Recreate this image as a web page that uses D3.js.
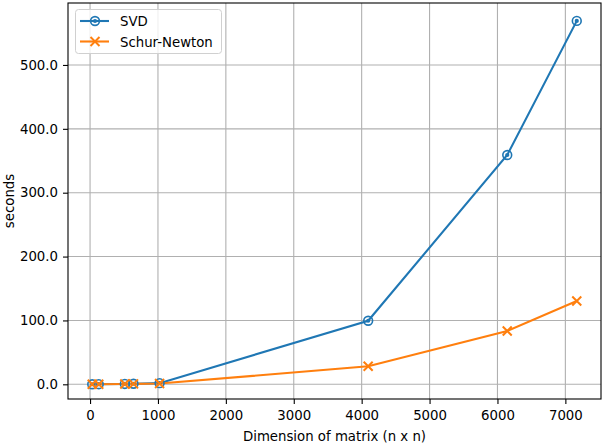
<!DOCTYPE html>
<html>
<head>
<meta charset="utf-8">
<script src="https://cdn.jsdelivr.net/npm/d3@7"></script>
<style>
  body { margin: 0; background: #fff; }
  svg { font-family: "DejaVu Sans", sans-serif; }
</style>
</head>
<body>
<div class="container"></div>
<script>
// data
var sizes = [32, 128, 512, 640, 1024, 4096, 6144, 7168];
var svdTimes = [0.1, 0.2, 0.6, 0.9, 1.8, 99.5, 359, 569];
var schurTimes = [0.1, 0.2, 0.5, 0.7, 1.2, 28.2, 83.5, 130.4];
var xTicks = [0, 1000, 2000, 3000, 4000, 5000, 6000, 7000];
var yTicks = [0, 100, 200, 300, 400, 500];
var seriesNames = ["SVD", "Schur-Newton"];

var width = 604, height = 444;
var margin = { top: 3, right: 3, bottom: 45, left: 68 };
var fs = 13.3;

var svg = d3.select(".container").append("svg")
  .attr("width", width).attr("height", height);

// x: matplotlib style 5% margins
var xPad = (7168 - 32) * 0.05;
var xScale = d3.scaleLinear().domain([32 - xPad, 7168 + xPad]).range([margin.left, width - margin.right]);
// y limits as seen in the picture
var yScale = d3.scaleLinear().domain([-23, 597]).range([height - margin.bottom, margin.top]);

// grid
svg.append("g").selectAll("line").data(xTicks).enter().append("line")
  .attr("x1", d => xScale(d)).attr("x2", d => xScale(d))
  .attr("y1", margin.top).attr("y2", height - margin.bottom)
  .attr("stroke", "#b0b0b0").attr("stroke-width", 1.1);
svg.append("g").selectAll("line").data(yTicks).enter().append("line")
  .attr("y1", d => yScale(d)).attr("y2", d => yScale(d))
  .attr("x1", margin.left).attr("x2", width - margin.right)
  .attr("stroke", "#b0b0b0").attr("stroke-width", 1.1);

// axes
var xAxis = d3.axisBottom(xScale).tickValues(xTicks).tickSize(5).tickPadding(7).tickFormat(d3.format("d"));
var yAxis = d3.axisLeft(yScale).tickValues(yTicks).tickSize(5).tickPadding(5).tickFormat(d3.format(".1f"));

var gx = svg.append("g").attr("transform", "translate(0," + (height - margin.bottom) + ")").call(xAxis);
var gy = svg.append("g").attr("transform", "translate(" + margin.left + ",0)").call(yAxis);
[gx, gy].forEach(function (g) {
  g.select(".domain").remove();
  g.selectAll("text").attr("font-size", fs).attr("font-family", "DejaVu Sans").attr("fill", "#000");
  g.selectAll("line").attr("stroke", "#000").attr("stroke-width", 1.1);
});

// lines
var lineColors = ["#1f77b4", "#ff7f0e"];
var allSeries = [svdTimes, schurTimes];
var line = d3.line().x((d, i) => xScale(sizes[i])).y(d => yScale(d));

allSeries.forEach(function (vals, k) {
  svg.append("path").datum(vals)
    .attr("d", line).attr("fill", "none")
    .attr("stroke", lineColors[k]).attr("stroke-width", 2.1);
});

function circleMarker(g, x, y) {
  g.append("circle").attr("cx", x).attr("cy", y).attr("r", 4.4)
    .attr("fill", "none").attr("stroke", lineColors[0]).attr("stroke-width", 1.6);
  g.append("circle").attr("cx", x).attr("cy", y).attr("r", 2.1).attr("fill", lineColors[0]);
}
function crossMarker(g, x, y) {
  var s = 4.5;
  g.append("path").attr("d", "M" + (x - s) + "," + (y - s) + "L" + (x + s) + "," + (y + s) +
    "M" + (x - s) + "," + (y + s) + "L" + (x + s) + "," + (y - s))
    .attr("stroke", lineColors[1]).attr("stroke-width", 2).attr("fill", "none");
}

var mk = svg.append("g");
svdTimes.forEach((d, i) => circleMarker(mk, xScale(sizes[i]), yScale(d)));
schurTimes.forEach((d, i) => crossMarker(mk, xScale(sizes[i]), yScale(d)));

// frame
svg.append("rect").attr("x", margin.left).attr("y", margin.top)
  .attr("width", width - margin.left - margin.right).attr("height", height - margin.top - margin.bottom)
  .attr("fill", "none").attr("stroke", "#000").attr("stroke-width", 1.1);

// labels
svg.append("text").attr("x", (margin.left + width - margin.right) / 2).attr("y", 441)
  .attr("text-anchor", "middle").attr("font-size", fs).text("Dimension of matrix (n x n)");
svg.append("text").attr("transform", "translate(14," + ((margin.top + height - margin.bottom) / 2) + ") rotate(-90)")
  .attr("text-anchor", "middle").attr("font-size", fs).text("seconds");

// legend
var lg = svg.append("g");
lg.append("rect").attr("x", 75.5).attr("y", 9.5).attr("width", 146).attr("height", 44).attr("rx", 3)
  .attr("fill", "#fff").attr("fill-opacity", 0.8).attr("stroke", "#d0d0d0").attr("stroke-width", 1);
seriesNames.forEach(function (name, k) {
  var y = 21 + k * 20.5;
  lg.append("line").attr("x1", 80).attr("x2", 109).attr("y1", y).attr("y2", y)
    .attr("stroke", lineColors[k]).attr("stroke-width", 2.1);
  if (k === 0) circleMarker(lg, 95, y); else crossMarker(lg, 95, y);
  lg.append("text").attr("x", 120).attr("y", y + 5).attr("font-size", fs).text(name);
});
</script>
</body>
</html>
